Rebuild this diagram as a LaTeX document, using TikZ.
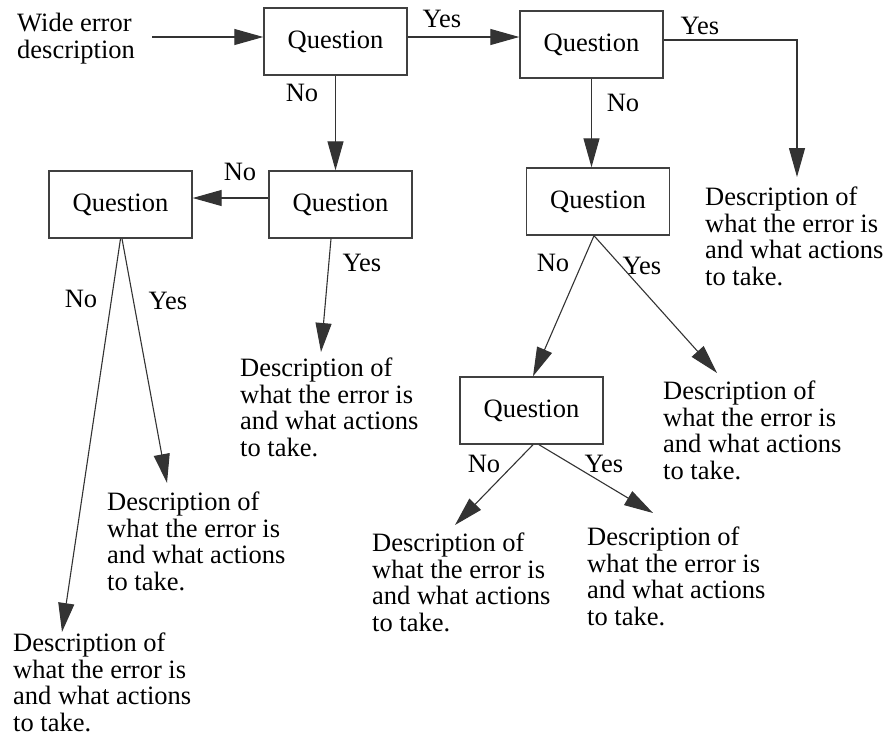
\documentclass[tikz,border=0pt]{standalone}
\usepackage{fontspec}
\setmainfont{Liberation Serif}
\usetikzlibrary{arrows.meta}

\begin{document}
\begin{tikzpicture}[x=1pt,y=-1pt,
    block_question/.style ={rectangle, draw=black!75, line width=1.4pt, fill=white,
      minimum width=143pt, minimum height=67pt, inner sep=0pt,
      font=\fontsize{26.5}{26.5}\selectfont},
    block_text/.style ={rectangle, draw=none, anchor=north west, align=left,
      inner sep=0pt, font=\fontsize{26.5}{26.5}\selectfont},
    block_label/.style ={rectangle, draw=none, inner sep=0pt,
      font=\fontsize{26.5}{26.5}\selectfont},
    line/.style ={draw=black!80, line width=1.1pt,
      -{Triangle[length=29pt,width=16pt]}, shorten >=0pt}]
    \useasboundingbox (0,0) rectangle (893,734);
    % questions
    \node [block_question] (q1) at (335.5,41.5) {Question};
    \node [block_question] (q2) at (591.5,44.5) {Question};
    \node [block_question] (q4) at (340.5,204.5) {Question};
    \node [block_question] (q5) at (120.5,204.5) {Question};
    \node [block_question] (q3) at (598,201.5) {Question};
    \node [block_question] (q6) at (531.5,410.5) {Question};
    % start text and descriptions
    \node [block_text] (wide) at (17,13) {Wide error\\description};
    \node [block_text] (desc1) at (240,358) {Description of\\what the error is\\and what actions\\to take.};
    \node [block_text] (desc2) at (107,492) {Description of\\what the error is\\and what actions\\to take.};
    \node [block_text] (desc3) at (13,633) {Description of\\what the error is\\and what actions\\to take.};
    \node [block_text] (desc4) at (705,187) {Description of\\what the error is\\and what actions\\to take.};
    \node [block_text] (desc5) at (663,381) {Description of\\what the error is\\and what actions\\to take.};
    \node [block_text] (desc6) at (372,533) {Description of\\what the error is\\and what actions\\to take.};
    \node [block_text] (desc7) at (587,527) {Description of\\what the error is\\and what actions\\to take.};
    \coordinate (start) at (152,37);
    % answers
    \node [block_label] (yes1) at (442,19) {Yes};
    \node [block_label] (yes2) at (700,26) {Yes};
    \node [block_label] (no1) at (302,93) {No};
    \node [block_label] (no2) at (623,103) {No};
    \node [block_label] (no4) at (240,172) {No};
    \node [block_label] (yes4) at (362,263) {Yes};
    \node [block_label] (no5) at (81,299) {No};
    \node [block_label] (yes5) at (168,301) {Yes};
    \node [block_label] (no3) at (553,263) {No};
    \node [block_label] (yes3) at (642,266) {Yes};
    \node [block_label] (no6) at (484,464) {No};
    \node [block_label] (yes6) at (604,464) {Yes};
    % connecting nodes with paths
    \begin{scope}[every path/.style=line]
      \path (start) -- (start -| q1.west);
      \path ([yshift=4.5pt]q1.east) -- ([yshift=4.5pt]q1.east -| q2.west);
      \path ([yshift=4.5pt]q2.east) -| ([xshift=92pt,yshift=10pt]desc4.north west);
      \path (q1.south) -- (q1.south |- q4.north);
      \path (q2.south) -- (q2.south |- q3.north);
      \path ([yshift=6.5pt]q4.west) -- ([yshift=6.5pt]q5.east);
      \path ([xshift=-9.5pt]q4.south) -- ([xshift=81pt,yshift=6pt]desc1.north west);
      \path (q5.south) -- ([xshift=49pt,yshift=1pt]desc3.north west);
      \path ([xshift=1.5pt]q5.south) -- ([xshift=60pt,yshift=9pt]desc2.north west);
      \path ([xshift=-4pt]q3.south) -- ([xshift=1.5pt]q6.north);
      \path ([xshift=-4pt]q3.south) -- ([xshift=54pt,yshift=8pt]desc5.north west);
      \path ([xshift=1.5pt]q6.south) -- ([xshift=83pt,yshift=8pt]desc6.north west);
      \path ([xshift=7.5pt]q6.south) -- ([xshift=66pt,yshift=14pt]desc7.north west);
    \end{scope}
\end{tikzpicture}
\end{document}
